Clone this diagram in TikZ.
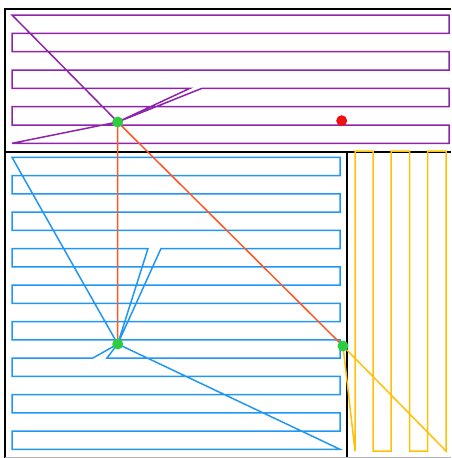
\documentclass[tikz,border=0pt]{standalone}
\usepackage{tikz}
\usetikzlibrary{positioning}
\definecolor{snakepurple}{RGB}{142,36,170}
\definecolor{snakeblue}{RGB}{33,150,243}
\definecolor{snakeyellow}{RGB}{255,193,7}
\definecolor{linkred}{RGB}{255,87,34}
\definecolor{hubgreen}{RGB}{46,204,64}
\definecolor{goalred}{RGB}{238,17,17}
\begin{document}
\begin{tikzpicture}[
    x=1pt, y=-1pt,
    wall/.style={draw=black, line width=1.6pt},
    sweep/.style={line width=1.5pt, line join=miter},
    hub/.style={circle, fill=hubgreen, inner sep=0pt, minimum size=11pt},
    goal/.style={circle, fill=goalred, inner sep=0pt, minimum size=11pt}
]
\useasboundingbox (0,0) rectangle (451,458);

% hub points
\coordinate (h1) at (117.7,122);
\coordinate (h2) at (117.7,344);
\coordinate (h3) at (343,346);

% room walls
\draw[wall] (451,9) -- (5,9) -- (5,458);
\draw[wall] (5,152) -- (451,152);
\draw[wall] (346.7,152) -- (346.7,458);
\draw[black!30, line width=1pt] (5,457) -- (451,457);

% top room
\draw[sweep, draw=snakepurple] (h1) -- (12,15) -- (449,15) -- (449,33.3) -- (12,33.3)
    -- (12,51.7) -- (449,51.7) -- (449,70) -- (12,70) -- (12,88.3) -- (190,88.3)
    -- (h1) -- (202,88.3) -- (449,88.3) -- (449,106.7) -- (12,106.7) -- (12,125)
    -- (449,125) -- (449,143.3) -- (12,143.3) -- (h1);

% left room
\draw[sweep, draw=snakeblue] (h2) -- (12,157.3) -- (340,157.3) -- (340,175.5) -- (12,175.5)
    -- (12,193.8) -- (340,193.8) -- (340,212) -- (12,212) -- (12,230.3) -- (340,230.3)
    -- (340,248.5) -- (161,248.5) -- (h2) -- (148,248.5) -- (12,248.5) -- (12,266.8)
    -- (340,266.8) -- (340,285) -- (12,285) -- (12,303.3) -- (340,303.3) -- (340,321.5)
    -- (12,321.5) -- (12,339.8) -- (340,339.8) -- (340,358) -- (107,358) -- (h2)
    -- (93,358) -- (12,358) -- (12,376.3) -- (340,376.3) -- (340,394.5) -- (12,394.5)
    -- (12,412.8) -- (340,412.8) -- (340,431) -- (12,431) -- (12,449.3) -- (340,449.3)
    -- (h2);

% right room
\draw[sweep, draw=snakeyellow] (h3) -- (355,451) -- (355,151) -- (373,151) -- (373,451)
    -- (391,451) -- (391,151) -- (409.5,151) -- (409.5,451) -- (427.7,451) -- (427.7,151)
    -- (446,151) -- (446,451) -- (h3);

% links between rooms
\draw[sweep, draw=linkred] (h2) -- (h1) -- (h3);

\node[hub] (dot1) at (h1) {};
\node[hub] (dot2) at (h2) {};
\node[hub] (dot3) at (h3) {};
\node[goal] (target) at (341.7,120.7) {};
\end{tikzpicture}
\end{document}
